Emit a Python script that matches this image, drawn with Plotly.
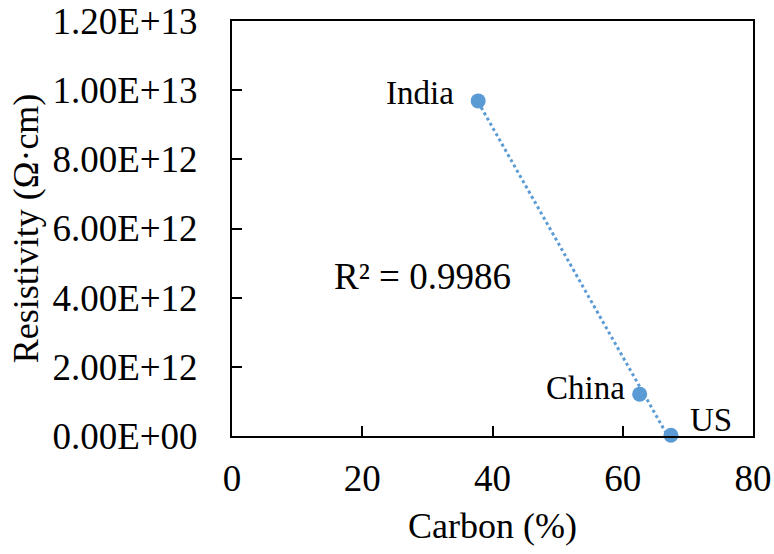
import numpy as np
import plotly.graph_objects as go

countries = ["India", "China", "US"]
carbon = [37.8, 62.6, 67.4]
resistivity = [9.69e12, 1.21e12, 0.02e12]
y_ticks = [0, 2e12, 4e12, 6e12, 8e12, 1e13, 1.2e13]
x_ticks = [0, 20, 40, 60, 80]
r2_text = "R² = 0.9986"

color = "#5B9BD5"
font = "Liberation Serif, Times New Roman, serif"

# linear trendline
coef = np.polyfit(carbon, resistivity, 1)
tx = np.array([min(carbon), max(carbon)])
ty = np.polyval(coef, tx)

fig = go.Figure()
fig.add_trace(go.Scatter(x=tx, y=ty, mode="lines",
                         line=dict(color=color, width=3, dash="dot"),
                         hoverinfo="skip", showlegend=False))
fig.add_trace(go.Scatter(x=carbon, y=resistivity, mode="markers",
                         marker=dict(color=color, size=15),
                         cliponaxis=False, showlegend=False))

shifts = {"India": (-22, 8, "right"), "China": (-13, 6, "right"), "US": (17, 15, "left")}
for c, x, y in zip(countries, carbon, resistivity):
    xs, ys, anc = shifts[c]
    fig.add_annotation(x=x, y=y, text=c, showarrow=False, xanchor=anc, yanchor="middle",
                       xshift=xs, yshift=ys, font=dict(family=font, size=33, color="black"))

fig.add_annotation(x=29.2, y=4.6e12, text=r2_text, showarrow=False,
                   xanchor="center", yanchor="middle",
                   font=dict(family=font, size=37, color="black"))

fig.update_layout(
    width=774, height=554,
    margin=dict(l=232, r=21, t=21, b=118, autoexpand=False),
    plot_bgcolor="white", paper_bgcolor="white",
    font=dict(family=font, size=37, color="black"),
)
fig.update_xaxes(range=[0, 80], tickvals=x_ticks, ticktext=[str(v) for v in x_ticks],
                 ticks="inside", ticklen=10, tickwidth=2, tickcolor="black",
                 showline=True, linecolor="black", linewidth=2, mirror=True,
                 showgrid=False, zeroline=False, ticklabelstandoff=9,
                 title=dict(text="Carbon (%)", standoff=14, font=dict(size=36)))
fig.update_yaxes(range=[0, 1.2e13], tickvals=y_ticks, ticktext=[f"{v:.2E}" for v in y_ticks],
                 ticks="inside", ticklen=10, tickwidth=2, tickcolor="black",
                 showline=True, linecolor="black", linewidth=2, mirror=True,
                 showgrid=False, zeroline=False, ticklabelstandoff=25,
                 title=dict(text="Resistivity (Ω·cm)", standoff=3, font=dict(size=36)))

fig.write_html("out.html")
